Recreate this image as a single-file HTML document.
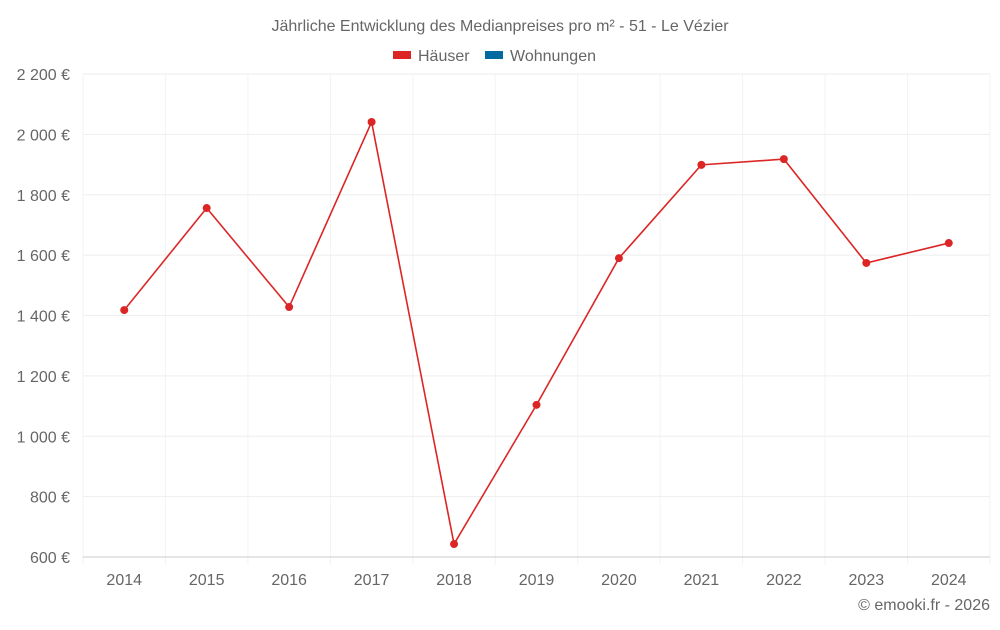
<!DOCTYPE html>
<html><head><meta charset="utf-8"><style>
body{margin:0;background:#fff;font-family:"Liberation Sans",sans-serif;}
svg text{font-family:"Liberation Sans",sans-serif;fill:#666;}
</style></head><body>
<svg id="chart" width="1000" height="625">
<text x="500" y="31" text-anchor="middle" font-size="16">Jährliche Entwicklung des Medianpreises pro m² - 51 - Le Vézier</text>
<g>
<g><rect x="393" y="51" width="18" height="8" fill="#dc2626"/><text x="418" y="61" font-size="16">Häuser</text></g>
<g><rect x="485" y="51" width="18" height="8" fill="#0369a1"/><text x="510" y="61" font-size="16">Wohnungen</text></g>
</g>
<g id="grid"></g><g id="axes"></g><g id="series"></g>
<text x="990" y="610" text-anchor="end" font-size="16">© emooki.fr - 2026</text>
</svg>
<script>
const categories=["2014","2015","2016","2017","2018","2019","2020","2021","2022","2023","2024"];
const haeuser=[1418,1756,1428,2041,643,1104,1590,1899,1918,1574,1640];
const yTicks=[600,800,1000,1200,1400,1600,1800,2000,2200];
const yTickLabels=["600 €","800 €","1 000 €","1 200 €","1 400 €","1 600 €","1 800 €","2 000 €","2 200 €"];
const L=83,R=990,T=74,B=557,yMin=600,yMax=2200;
const NS="http://www.w3.org/2000/svg";
const bw=(R-L)/categories.length;
const x=i=>L+bw*(i+0.5);
const y=v=>B-(v-yMin)/(yMax-yMin)*(B-T);
function mk(tag,attrs,parent){const e=document.createElementNS(NS,tag);for(const k in attrs)e.setAttribute(k,attrs[k]);parent.appendChild(e);return e;}
const grid=document.getElementById('grid'),axes=document.getElementById('axes'),series=document.getElementById('series');
for(let i=0;i<=categories.length;i++){
 const gx=L+bw*i;
 const l=mk('line',{x1:gx,x2:gx,y1:T,y2:B+8,stroke:'#f3f3f3'},grid);
 
 
}
yTicks.forEach((t,i)=>{
 const l=mk('line',{x1:L,x2:R,y1:y(t),y2:y(t),stroke:i==0?'#ccc':'#eee'},grid);
 
 
 const tx=mk('text',{x:L-13,y:y(t)+6,'text-anchor':'end','font-size':16},axes);
 tx.textContent=yTickLabels[i];
 
 
});
categories.forEach((c,i)=>{
 const tx=mk('text',{x:x(i),y:585,'text-anchor':'middle','font-size':16},axes);
 tx.textContent=c;
 
 
});
const p=mk('polyline',{points:haeuser.map((v,i)=>x(i)+','+y(v)).join(' '),fill:'none',stroke:'#dc2626','stroke-width':1.6},series);


haeuser.forEach((v,i)=>{
 const c=mk('circle',{cx:x(i),cy:y(v),r:4,fill:'#dc2626'},series);
 
 
});
</script>
</body></html>
